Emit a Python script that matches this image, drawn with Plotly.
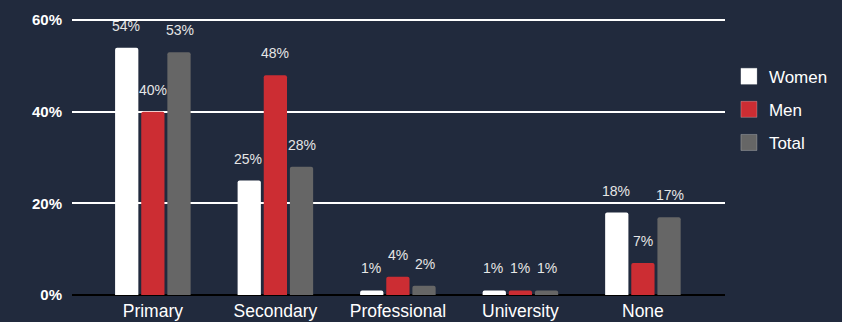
import plotly.graph_objects as go

categories = ["Primary", "Secondary", "Professional", "University", "None"]
women = [54, 25, 1, 1, 18]
men = [40, 48, 4, 1, 7]
total = [53, 28, 2, 1, 17]

series = [
    ("Women", women, "#ffffff"),
    ("Men", men, "#cc2d33"),
    ("Total", total, "#666666"),
]

BG = "#212a3d"
FONT = "Liberation Sans, Arial, sans-serif"

fig = go.Figure()
for name, vals, color in series:
    fig.add_trace(go.Bar(
        name=name,
        x=categories,
        y=vals,
        marker=dict(color=color, line=dict(width=0), cornerradius=2),
        legendgroup=name,
        showlegend=False,
    ))

# legend entries with larger square swatches
for name, vals, color in series:
    fig.add_trace(go.Scatter(
        name=name, x=[None], y=[None], mode="markers",
        marker=dict(symbol="square", size=16, color=color,
                    line=dict(width=1, color="rgba(255,255,255,0.25)")),
        legendgroup=name, showlegend=True,
    ))

# value labels sit a little above each bar
bar_offsets = [-27, 0, 27]
for (name, vals, color), dx in zip(series, bar_offsets):
    for cat, v in zip(categories, vals):
        fig.add_annotation(
            x=cat, y=v, text=f"{v}%", showarrow=False,
            xshift=dx, yshift=22, yanchor="middle",
            font=dict(family=FONT, size=14, color="#e6e6e6"),
        )

fig.update_layout(
    width=842, height=322,
    margin=dict(l=72, r=117, t=17, b=27, autoexpand=False),
    paper_bgcolor=BG, plot_bgcolor=BG,
    barmode="group", bargap=0.36, bargroupgap=0.11,
    font=dict(family=FONT, color="#ffffff"),
    legend=dict(
        x=1.006, xanchor="left", y=0.85, yanchor="top",
        font=dict(size=17, color="#ffffff"),
        tracegroupgap=8, bgcolor="rgba(0,0,0,0)",
    ),
    xaxis=dict(
        range=[-0.66, 4.67], showgrid=False, showline=False,
        tickfont=dict(size=17.5, color="#ffffff"), ticks="",
        automargin=False, ticklabelstandoff=3,
    ),
    yaxis=dict(
        range=[0, 60.7], tickvals=[0, 20, 40, 60],
        ticktext=["<b>0%</b>", "<b>20%</b>", "<b>40%</b>", "<b>60%</b>"],
        showgrid=True, gridcolor="#ffffff", gridwidth=1.5,
        zeroline=True, zerolinecolor="#000000", zerolinewidth=2,
        tickfont=dict(size=15, color="#ffffff"), ticklabelstandoff=9,
        automargin=False,
    ),
)

fig.write_html("out.html")
